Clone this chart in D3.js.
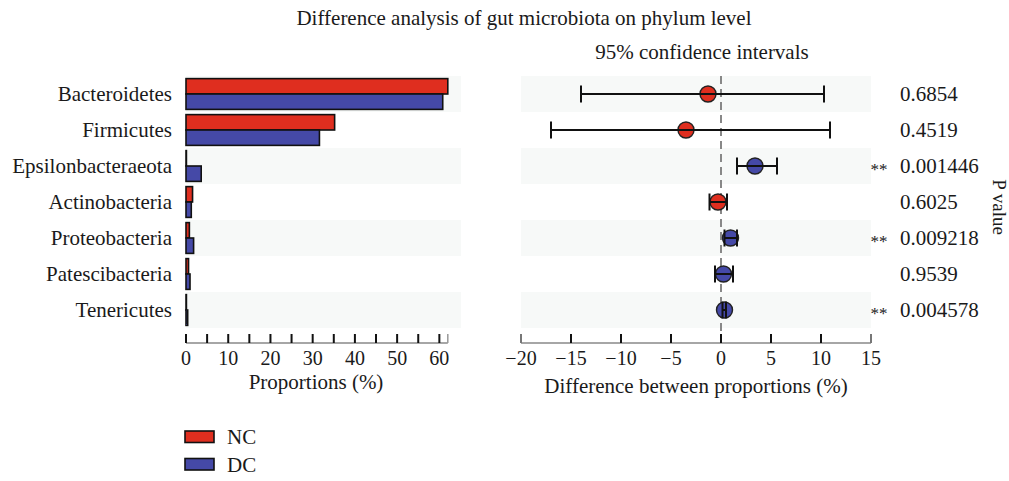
<!DOCTYPE html>
<html>
<head>
<meta charset="utf-8">
<script src="https://cdn.jsdelivr.net/npm/d3@7"></script>
<style>
  html, body { margin: 0; padding: 0; background: #fff; }
  svg text { font-family: "Liberation Serif", "DejaVu Serif", serif; fill: #1a1a1a; }
</style>
</head>
<body>
<svg id="chart" width="1009" height="481"></svg>
<script>
// Phylum-level comparison of NC and DC groups
const categories = ["Bacteroidetes", "Firmicutes", "Epsilonbacteraeota", "Actinobacteria",
                    "Proteobacteria", "Patescibacteria", "Tenericutes"];
const groups = ["NC", "DC"];
const ncValues = [62.0, 35.2, 0.1, 1.55, 0.8, 0.6, 0.1];
const dcValues = [60.8, 31.6, 3.6, 1.25, 1.8, 0.95, 0.4];
const diffValues = [-1.3, -3.5, 3.4, -0.3, 0.95, 0.25, 0.35];
const ciLower = [-14.0, -17.0, 1.6, -1.15, 0.35, -0.6, 0.15];
const ciUpper = [10.3, 10.9, 5.6, 0.6, 1.6, 1.2, 0.5];
const pValues = ["0.6854", "0.4519", "0.001446", "0.6025", "0.009218", "0.9539", "0.004578"];
const signif = ["", "", "**", "", "**", "", "**"];
const barTicks = [0, 10, 20, 30, 40, 50, 60];
const diffTicks = [-20, -15, -10, -5, 0, 5, 10, 15];

const colors = { NC: "#df2e1f", DC: "#4549a7" };
const bandFill = "#f7f9f8";
const fontSize = 21;
const tickFont = 20;

const svg = d3.select("#chart");

// shared row layout
const y = d3.scaleBand().domain(categories).range([76, 328]);
const yInner = d3.scaleBand().domain(groups).range([0, y.bandwidth()]).paddingOuter(0.17);
const axisY = 343;

// ---------- left panel: group proportions ----------
const xBar = d3.scaleLinear().domain([0, 62]).range([186, 447.8]);

svg.append("g").selectAll("rect")
  .data(categories.filter((d, i) => i % 2 === 0))
  .join("rect")
  .attr("x", 186).attr("width", 461 - 186)
  .attr("y", d => y(d)).attr("height", y.bandwidth())
  .attr("fill", bandFill);

const barRows = categories.map((c, i) => ({ c, NC: ncValues[i], DC: dcValues[i] }));
const rowG = svg.append("g").selectAll("g").data(barRows).join("g")
  .attr("transform", d => `translate(0,${y(d.c)})`);
rowG.selectAll("rect")
  .data(d => groups.map(g => ({ g, v: d[g] })))
  .join("rect")
  .attr("x", xBar(0))
  .attr("y", d => yInner(d.g))
  .attr("width", d => xBar(d.v) - xBar(0))
  .attr("height", yInner.bandwidth())
  .attr("fill", d => colors[d.g])
  .attr("stroke", "#111")
  .attr("stroke-width", 1.6);

// category labels
svg.append("g").selectAll("text").data(categories).join("text")
  .attr("x", 172).attr("y", d => y(d) + y.bandwidth() / 2)
  .attr("dy", "0.33em")
  .attr("text-anchor", "end")
  .attr("font-size", fontSize)
  .text(d => d);

// left x axis: minor ticks every 5, labels every 10
const leftAxis = svg.append("g");
leftAxis.append("line")
  .attr("x1", xBar.range()[0]).attr("x2", xBar.range()[1])
  .attr("y1", axisY).attr("y2", axisY)
  .attr("stroke", "#888").attr("stroke-width", 1.5);
leftAxis.append("line")
  .attr("x1", xBar.range()[1]).attr("x2", xBar.range()[1])
  .attr("y1", axisY - 9).attr("y2", axisY)
  .attr("stroke", "#999").attr("stroke-width", 1.5);
leftAxis.selectAll("line.tick").data(d3.range(0, 61, 5)).join("line")
  .attr("class", "tick")
  .attr("x1", d => xBar(d)).attr("x2", d => xBar(d))
  .attr("y1", axisY - 9).attr("y2", axisY)
  .attr("stroke", "#111").attr("stroke-width", 2);
leftAxis.selectAll("text").data(barTicks).join("text")
  .attr("x", d => xBar(d)).attr("y", 365)
  .attr("text-anchor", "middle")
  .attr("font-size", tickFont)
  .text(d => d);
svg.append("text")
  .attr("x", 316).attr("y", 389)
  .attr("text-anchor", "middle").attr("font-size", fontSize)
  .text("Proportions (%)");

// ---------- right panel: difference with 95% CI ----------
const xDiff = d3.scaleLinear().domain([-20, 15]).range([521, 871]);

svg.append("g").selectAll("rect")
  .data(categories.filter((d, i) => i % 2 === 0))
  .join("rect")
  .attr("x", xDiff.range()[0]).attr("width", xDiff.range()[1] - xDiff.range()[0])
  .attr("y", d => y(d)).attr("height", y.bandwidth())
  .attr("fill", bandFill);

// zero reference line
svg.append("line")
  .attr("x1", xDiff(0)).attr("x2", xDiff(0))
  .attr("y1", y.range()[0]).attr("y2", axisY)
  .attr("stroke", "#888").attr("stroke-width", 2)
  .attr("stroke-dasharray", "8,5");

const ciRows = categories.map((c, i) => ({
  c, diff: diffValues[i], lo: ciLower[i], hi: ciUpper[i]
}));
const ciG = svg.append("g").selectAll("g").data(ciRows).join("g")
  .attr("transform", d => `translate(0,${y(d.c) + y.bandwidth() / 2})`);
ciG.append("circle")
  .attr("cx", d => xDiff(d.diff)).attr("cy", 0).attr("r", 8)
  .attr("fill", d => d.diff < 0 ? colors.NC : colors.DC)
  .attr("stroke", "#222").attr("stroke-width", 1.4);
ciG.append("line")
  .attr("x1", d => xDiff(d.lo)).attr("x2", d => xDiff(d.hi))
  .attr("y1", 0).attr("y2", 0)
  .attr("stroke", "#111").attr("stroke-width", 2);
ciG.selectAll("line.cap")
  .data(d => [d.lo, d.hi]).join("line")
  .attr("class", "cap")
  .attr("x1", v => xDiff(v)).attr("x2", v => xDiff(v))
  .attr("y1", -8.5).attr("y2", 8.5)
  .attr("stroke", "#111").attr("stroke-width", 2);

// right x axis
const rightAxis = svg.append("g");
rightAxis.append("line")
  .attr("x1", xDiff.range()[0]).attr("x2", xDiff.range()[1])
  .attr("y1", axisY).attr("y2", axisY)
  .attr("stroke", "#888").attr("stroke-width", 1.5);
rightAxis.selectAll("line.tick").data(diffTicks).join("line")
  .attr("class", "tick")
  .attr("x1", d => xDiff(d)).attr("x2", d => xDiff(d))
  .attr("y1", axisY - 9).attr("y2", axisY)
  .attr("stroke", (d, i) => (i === 0 || i === diffTicks.length - 1) ? "#777" : "#111")
  .attr("stroke-width", 2);
rightAxis.selectAll("text").data(diffTicks).join("text")
  .attr("x", d => xDiff(d)).attr("y", 365)
  .attr("text-anchor", "middle")
  .attr("font-size", tickFont)
  .text(d => d < 0 ? "\u2212" + Math.abs(d) : d);
svg.append("text")
  .attr("x", 696).attr("y", 393)
  .attr("text-anchor", "middle").attr("font-size", fontSize)
  .text("Difference between proportions (%)");

// p-values and significance marks
svg.append("g").selectAll("text").data(pValues).join("text")
  .attr("x", 900).attr("y", (d, i) => y(categories[i]) + y.bandwidth() / 2)
  .attr("dy", "0.33em").attr("font-size", fontSize)
  .text(d => d);
svg.append("g").selectAll("text").data(signif).join("text")
  .attr("x", 879).attr("y", (d, i) => y(categories[i]) + y.bandwidth() / 2)
  .attr("dy", "0.55em").attr("text-anchor", "middle").attr("font-size", 17)
  .attr("fill", "#333")
  .text(d => d);
svg.append("text")
  .attr("transform", "translate(993,207) rotate(90)")
  .attr("text-anchor", "middle").attr("font-size", 19)
  .text("P value");

// titles
svg.append("text")
  .attr("x", 524).attr("y", 25)
  .attr("text-anchor", "middle").attr("font-size", fontSize)
  .text("Difference analysis of gut microbiota on phylum level");
svg.append("text")
  .attr("x", 702).attr("y", 59)
  .attr("text-anchor", "middle").attr("font-size", fontSize)
  .text("95% confidence intervals");

// legend
const legend = svg.append("g").selectAll("g").data(groups).join("g")
  .attr("transform", (d, i) => `translate(185,${431 + i * 27.5})`);
legend.append("rect")
  .attr("width", 29).attr("height", 11.5)
  .attr("fill", d => colors[d]).attr("stroke", "#111").attr("stroke-width", 1.6);
legend.append("text")
  .attr("x", 42).attr("y", 6).attr("dy", "0.35em")
  .attr("font-size", fontSize)
  .text(d => d);
</script>
</body>
</html>
